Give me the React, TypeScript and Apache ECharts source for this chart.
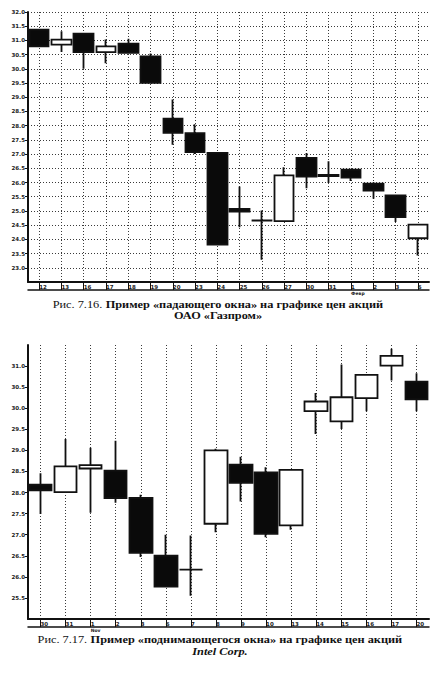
import React, { useEffect, useRef } from 'react';
import * as echarts from 'echarts';

// ОАО «Газпром»: trading days and daily prices
const gazpromDays = ['12', '13', '16', '17', '18', '19', '20', '23', '24', '25', '26', '27', '30', '31', '1', '2', '3', '6'];
const gazpromOpen = [31.38, 30.85, 31.24, 30.59, 30.89, 30.44, 28.25, 27.74, 27.04, 25.07, 24.67, 24.64, 26.87, 26.27, 26.45, 25.96, 25.55, 24.04];
const gazpromClose = [30.79, 31.03, 30.59, 30.79, 30.56, 29.51, 27.75, 27.07, 23.82, 24.98, 24.66, 26.25, 26.21, 26.23, 26.17, 25.72, 24.78, 24.52];
const gazpromLow = [30.79, 30.59, 30.0, 30.2, 30.56, 29.48, 27.33, 27.0, 23.78, 24.43, 23.28, 24.64, 25.8, 25.98, 26.05, 25.43, 24.61, 23.43];
const gazpromHigh = [31.38, 31.32, 31.24, 31.03, 31.06, 30.54, 28.92, 28.05, 27.04, 25.86, 25.02, 26.54, 27.04, 26.75, 26.45, 26.01, 25.55, 24.52];
const gazpromMonthDay = '1';
const gazpromMonth = 'Февр';

// Intel Corp.: trading days and daily prices
const intelDays = ['30', '31', '1', '2', '3', '6', '7', '8', '9', '10', '13', '14', '15', '16', '17', '20'];
const intelOpen = [28.19, 28.01, 28.57, 28.52, 27.87, 26.5, 26.17, 27.26, 28.66, 28.48, 27.22, 29.93, 29.69, 30.24, 31.01, 30.63];
const intelClose = [28.05, 28.62, 28.65, 27.87, 26.57, 25.77, 26.17, 29.0, 28.23, 27.02, 28.54, 30.16, 30.26, 30.79, 31.24, 30.21];
const intelLow = [27.49, 28.0, 27.52, 27.76, 26.47, 25.76, 25.55, 27.06, 27.79, 26.94, 27.12, 29.39, 29.51, 29.93, 30.66, 29.93];
const intelHigh = [28.46, 29.27, 29.06, 29.23, 27.95, 27.0, 26.98, 29.04, 28.85, 28.6, 28.55, 30.36, 31.04, 30.8, 31.41, 30.83];
const intelMonthDay = '1';
const intelMonth = 'Nov';

const toOHLC = (o: number[], c: number[], l: number[], h: number[]) =>
  o.map((v, i) => [v, c[i], l[i], h[i]]);

const tickFont = {
  fontSize: 5.5,
  fontWeight: 'bold' as const,
  color: '#1a1a1a',
  fontFamily: 'DejaVu Sans',
};
const dotted = { color: '#3a3a3a', width: 1, type: [1, 2] as number[] };
const ink = '#111';

function dayAxis(gridIndex: number, days: string[], showGrid: boolean) {
  return {
    gridIndex,
    type: 'category' as const,
    data: days,
    boundaryGap: true,
    axisLine: { lineStyle: { color: ink, width: 2 } },
    axisTick: { show: true, length: 8, alignWithLabel: true, lineStyle: { color: ink, width: 1 } },
    axisLabel: { ...tickFont, align: 'left' as const, margin: 2, interval: 0 },
    splitLine: { show: showGrid, alignWithLabel: true, interval: 0, lineStyle: dotted },
  };
}

function monthAxis(gridIndex: number, days: string[], day: string, month: string) {
  return {
    gridIndex,
    type: 'category' as const,
    data: days,
    boundaryGap: true,
    position: 'bottom' as const,
    offset: 8,
    axisLine: { lineStyle: { color: ink, width: 1.5 } },
    axisTick: { show: false },
    splitLine: { show: false },
    axisLabel: {
      ...tickFont,
      fontSize: 4.5,
      align: 'left' as const,
      margin: 1,
      interval: 0,
      formatter: (d: string) => (d === day ? month : ''),
    },
  };
}

function priceAxis(gridIndex: number, min: number, max: number, hGrid: boolean) {
  return {
    gridIndex,
    type: 'value' as const,
    min,
    max,
    interval: 0.5,
    axisLine: { show: true, lineStyle: { color: ink, width: 2 } },
    axisTick: { show: true, length: 3, lineStyle: { color: ink, width: 1 } },
    axisLabel: {
      ...tickFont,
      margin: 3,
      showMinLabel: false,
      showMaxLabel: hGrid,
      formatter: (v: number) => v.toFixed(1),
    },
    splitLine: { show: hGrid, lineStyle: dotted },
  };
}

const candleStyle = {
  color: '#ffffff',
  color0: '#0a0a0a',
  borderColor: ink,
  borderColor0: ink,
  borderWidth: 1.8,
};

export default function App() {
  const ref = useRef<HTMLDivElement>(null);

  useEffect(() => {
    if (!ref.current) return;
    const chart = echarts.init(ref.current, undefined, { renderer: 'svg' });
    const serif = 'Liberation Serif';
    const caption = (lineHeight: number) => ({
      fontFamily: serif,
      fontSize: 11,
      fontWeight: 'bold' as const,
      fill: '#111',
      lineHeight,
      align: 'center' as const,
      verticalAlign: 'middle' as const,
      rich: {
        r: { fontFamily: serif, fontSize: 11, fontWeight: 'normal' as const, lineHeight },
        b: { fontFamily: serif, fontSize: 11, fontWeight: 'bold' as const, lineHeight },
        i: { fontFamily: serif, fontSize: 11, fontWeight: 'bold' as const, fontStyle: 'italic' as const, lineHeight },
      },
    });
    chart.setOption({
      animation: false,
      backgroundColor: '#ffffff',
      grid: [
        { left: 28, top: 12, width: 401, height: 270 },
        { left: 28, top: 345, width: 401, height: 274 },
      ],
      xAxis: [
        dayAxis(0, gazpromDays, true),
        monthAxis(0, gazpromDays, gazpromMonthDay, gazpromMonth),
        dayAxis(1, intelDays, true),
        monthAxis(1, intelDays, intelMonthDay, intelMonth),
      ],
      yAxis: [priceAxis(0, 22.5, 32, true), priceAxis(1, 25, 31.5, false)],
      series: [
        {
          type: 'candlestick',
          xAxisIndex: 0,
          yAxisIndex: 0,
          barWidth: '90%',
          itemStyle: candleStyle,
          data: toOHLC(gazpromOpen, gazpromClose, gazpromLow, gazpromHigh),
        },
        {
          type: 'candlestick',
          xAxisIndex: 2,
          yAxisIndex: 1,
          barWidth: '92%',
          itemStyle: candleStyle,
          data: toOHLC(intelOpen, intelClose, intelLow, intelHigh),
        },
      ],
      graphic: [
        {
          type: 'text',
          x: 218,
          y: 310,
          scaleX: 1.12,
          originX: 0,
          style: {
            ...caption(10.5),
            text: '{r|Рис. 7.16.} {b|Пример «падающего окна» на графике цен акций}\n{b|ОАО «Газпром»}',
          },
        },
        {
          type: 'text',
          x: 220,
          y: 645.5,
          scaleX: 1.12,
          originX: 0,
          style: {
            ...caption(12),
            text: '{r|Рис. 7.17.} {b|Пример «поднимающегося окна» на графике цен акций}\n{i|Intel Corp.}',
          },
        },
      ],
    });
    return () => chart.dispose();
  }, []);

  return (
    <div
      ref={ref}
      style={{ position: 'absolute', left: 0, top: 0, width: 435, height: 679, background: '#fff' }}
    />
  );
}
